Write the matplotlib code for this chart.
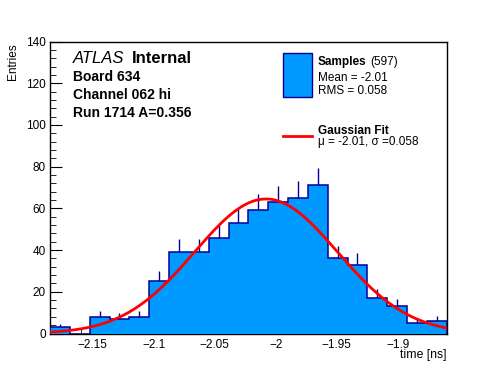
import numpy as np
import matplotlib
matplotlib.use("Agg")
import matplotlib.pyplot as plt
from matplotlib.patches import Rectangle
from matplotlib.lines import Line2D
from matplotlib.ticker import MultipleLocator, FuncFormatter

plt.rcParams['font.family'] = ['Liberation Sans', 'DejaVu Sans']

# histogram data (20 bins)
x_min, x_max = -2.185, -1.860
counts = [3, 0, 8, 7, 8, 25, 39, 39, 46, 53, 59, 63, 65, 71, 36, 33, 17, 13, 5, 6]

# gaussian fit parameters
fit_amp = 64.5
fit_mu = -2.008
fit_sigma = 0.0585

fill_col = '#0099ff'
edge_col = '#000099'

W, H = 496, 372
fig = plt.figure(figsize=(W / 100, H / 100), dpi=100)
ax = fig.add_axes([50 / W, 38.5 / H, 396.7 / W, 292 / H])

edges = np.linspace(x_min, x_max, len(counts) + 1)
centers = 0.5 * (edges[:-1] + edges[1:])
counts = np.array(counts, dtype=float)

# upward error bars
nz = counts > 0
ax.vlines(centers[nz], counts[nz], counts[nz] + np.sqrt(counts[nz]),
          color=edge_col, lw=1.0, zorder=2)
ax.stairs(counts, edges, fill=True, color=fill_col, zorder=3)
ax.stairs(counts, edges, baseline=0, color=edge_col, lw=1.1, zorder=4)

xs = np.linspace(x_min, x_max, 400)
ax.plot(xs, fit_amp * np.exp(-0.5 * ((xs - fit_mu) / fit_sigma) ** 2),
        color='red', lw=2, zorder=5)

ax.set_xlim(x_min, x_max)
ax.set_ylim(0, 140)
ax.xaxis.set_major_locator(MultipleLocator(0.05))
ax.xaxis.set_minor_locator(MultipleLocator(0.01))
ax.xaxis.set_major_formatter(FuncFormatter(lambda v, p: ('%g' % round(v, 3)).replace('-', '\u2212')))
ax.yaxis.set_major_locator(MultipleLocator(20))
ax.yaxis.set_minor_locator(MultipleLocator(4))
ax.tick_params(which='both', direction='in', top=False, right=False, labelsize=8.5)
ax.tick_params(axis='y', which='major', length=8.5, pad=3)
ax.tick_params(axis='y', which='minor', length=4.3)
ax.tick_params(axis='x', which='major', length=6.5, pad=4)
ax.tick_params(axis='x', which='minor', length=3.6)
for s in ax.spines.values():
    s.set_linewidth(1.0)

def fx(px):
    return px / W

def fy(py):
    return 1 - py / H

fig.text(fx(13), fy(43), 'Entries', rotation=90, ha='center', va='top', fontsize=8.5)
fig.text(fx(447), fy(358), 'time [ns]', ha='right', va='baseline', fontsize=8.8)

# ATLAS label block
fig.text(fx(73.3), fy(63.3), 'ATLAS', style='italic', fontsize=12, va='baseline')
fig.text(fx(132), fy(63.3), 'Internal', weight='bold', fontsize=12, va='baseline')
fig.text(fx(73.3), fy(81), 'Board 634', weight='bold', fontsize=10, va='baseline')
fig.text(fx(73.3), fy(99), 'Channel 062 hi', weight='bold', fontsize=10, va='baseline')
fig.text(fx(73.3), fy(117), 'Run 1714 A=0.356', weight='bold', fontsize=10, va='baseline')

# legend
fig.patches.append(Rectangle((fx(283.3), fy(96.7)), (311.7 - 283.3) / W, (96.7 - 53.3) / H,
                             transform=fig.transFigure, facecolor=fill_col,
                             edgecolor=edge_col, lw=1.0))
fig.lines.append(Line2D([fx(283.3), fx(311.7)], [fy(136), fy(136)],
                        transform=fig.transFigure, color='red', lw=2))
fig.text(fx(317.7), fy(65), 'Samples', weight='bold', fontsize=8.5, va='baseline')
fig.text(fx(370), fy(65), '(597)', fontsize=8.5, va='baseline')
fig.text(fx(317.7), fy(81), 'Mean = -2.01', fontsize=8.5, va='baseline')
fig.text(fx(317.7), fy(94), 'RMS = 0.058', fontsize=8.5, va='baseline')
fig.text(fx(317.7), fy(133.7), 'Gaussian Fit', weight='bold', fontsize=8.5, va='baseline')
fig.text(fx(317.7), fy(145.5), 'μ = -2.01, σ =0.058', fontsize=8.5, va='baseline')

fig.savefig('out.png', dpi=100)
